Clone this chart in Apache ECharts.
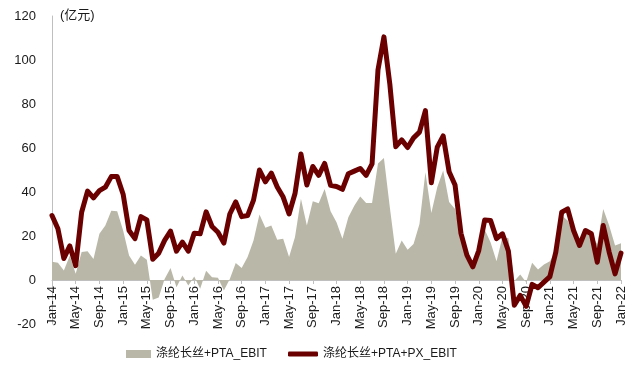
<!DOCTYPE html>
<html>
<head>
<meta charset="utf-8">
<script src="https://cdn.jsdelivr.net/npm/echarts@6/dist/echarts.min.js"></script>
<style>
html,body{margin:0;padding:0;background:#fff;}
#chart{width:640px;height:366px;}
</style>
</head>
<body>
<div id="chart"></div>
<script>
var monthNames = ["Jan","Feb","Mar","Apr","May","Jun","Jul","Aug","Sep","Oct","Nov","Dec"];
var years = ["14","15","16","17","18","19","20","21","22"];
var categories = [];
for (var y = 0; y < years.length; y++) {
  for (var m = 0; m < 12; m++) {
    if (y === years.length - 1 && m > 0) break;
    categories.push(monthNames[m] + "-" + years[y]);
  }
}

var seriesPTAName = "涤纶长丝+PTA_EBIT";
var seriesPXName = "涤纶长丝+PTA+PX_EBIT";

var ptaEbit = [
  8.3, 7.8, 4.3, 11, 2.8, 12.7, 13.1, 9.6, 21, 24.8, 31.5, 31.3,
  22.5, 11.1, 6.9, 11.1, 9.2, -9, -8, 0.5, 5.5, -3.3, 2, -2.5,
  1.6, -4, 4.2, 1.3, 1, -4.8, 0.5, 7.7, 5.5, 10.4, 18, 29.8,
  23.7, 24.8, 18.3, 18.7, 10.4, 19.5, 36.9, 24.8, 35.8, 34.9, 41.4, 31.3,
  26.3, 18.7, 28.5, 33.7, 38, 35, 35, 53, 55.4, 33, 11.9, 18,
  13.7, 16.4, 25.5, 49, 30.4, 42.2, 49.8, 35.4, 32.3, 19.5, 11, 6,
  13, 23, 17, 8.5, 19.5, 19, -0.5, 2.5, -1, 7.8, 4.8, 7,
  8.5, 13, 29.3, 27, 21, 17.2, 22.5, 20.2, 16.4, 32.3, 24.8, 15.7,
  16.7
];

var ptaPxEbit = [
  29.3, 23.3, 9.8, 15.5, 6.5, 30.8, 40.4, 37.3, 40.6, 42.2, 47, 47,
  39, 22.5, 18.8, 28.8, 27.3, 9.4, 12.2, 18, 22.2, 13.1, 17.2, 13.1,
  21.3, 21, 31, 24.3, 21.7, 16.8, 30, 35.5, 28.8, 29.3, 36.3, 50,
  44.6, 48.6, 42.3, 37.7, 30, 39.3, 57.3, 43.2, 51.6, 47.6, 53, 43,
  42.5, 41.2, 48.3, 49.5, 50.7, 47.6, 52.8, 95.5, 110.5, 89, 60.6, 63.7,
  60.2, 64.6, 67.2, 77, 44.2, 60.4, 65.5, 49.2, 43.2, 21.2, 11.3, 6,
  13.4, 27.3, 27, 18.8, 21, 13.2, -11.5, -7, -12, -2, -3.5, -1,
  1.5, 12.7, 30.8, 32.3, 22.5, 15.7, 22.5, 21, 8.1, 24.8, 12.7, 2.8,
  12.2
];

var yTicks = [-20, 0, 20, 40, 60, 80, 100, 120];

var gridTop = 16, gridBottom = 42, chartH = 366;
var plotH = chartH - gridTop - gridBottom;
var yMin = yTicks[0], yMax = yTicks[yTicks.length - 1];
// distance from the grid bottom (value yMin) up to the zero line
var zeroOffset = -plotH * (0 - yMin) / (yMax - yMin);

var chart = echarts.init(document.getElementById('chart'), null, {renderer: 'canvas'});
var baseFont = '"Liberation Sans", Arial, "Noto Sans CJK SC", sans-serif';
var mixFont = '"Liberation Sans", Arial, "Noto Sans CJK SC", sans-serif';
var option = {
  animation: false,
  backgroundColor: '#ffffff',
  textStyle: {fontFamily: baseFont},
  grid: {left: 52, right: 19, top: gridTop, bottom: gridBottom, containLabel: false, outerBoundsMode: 'none'},
  xAxis: {
    type: 'category',
    data: categories,
    boundaryGap: false,
    offset: zeroOffset,
    axisLine: {onZero: false, lineStyle: {color: '#bfbfbf', width: 1}},
    axisTick: {show: true, interval: 3, length: 4, lineStyle: {color: '#bfbfbf'}},
    axisLabel: {
      interval: 3, rotate: 90, fontSize: 13, color: '#1a1a1a', margin: 6,
      fontFamily: baseFont, hideOverlap: false
    },
    splitLine: {show: false}
  },
  yAxis: {
    type: 'value',
    min: yMin,
    max: yMax,
    interval: 20,
    axisLine: {show: true, lineStyle: {color: '#bfbfbf', width: 1}},
    axisTick: {show: false},
    axisLabel: {fontSize: 13, color: '#1a1a1a', margin: 16, fontFamily: baseFont},
    splitLine: {show: false}
  },
  legend: [
    {
      data: [{name: seriesPTAName, icon: 'rect'}],
      left: 126, top: 348, padding: 0,
      itemWidth: 25, itemHeight: 8, itemGap: 10,
      textStyle: {fontSize: 12, color: '#1a1a1a', fontFamily: mixFont}
    },
    {
      data: [{name: seriesPXName, icon: 'roundRect'}],
      left: 288, top: 348, padding: 0,
      itemWidth: 30, itemHeight: 5, itemGap: 10,
      textStyle: {fontSize: 12, color: '#1a1a1a', fontFamily: mixFont}
    }
  ],
  graphic: [
    {
      type: 'text', left: 60, top: 9,
      style: {text: '(亿元)', fontSize: 13, fill: '#1a1a1a', fontFamily: mixFont}
    }
  ],
  series: [
    {
      name: seriesPTAName,
      type: 'line',
      data: ptaEbit,
      showSymbol: false,
      symbol: 'none',
      lineStyle: {width: 0, color: '#b9b7a7'},
      itemStyle: {color: '#b9b7a7'},
      areaStyle: {color: '#b9b7a7', opacity: 1, origin: 'auto'},
      z: 1
    },
    {
      name: seriesPXName,
      type: 'line',
      data: ptaPxEbit,
      showSymbol: false,
      symbol: 'none',
      lineStyle: {width: 5, color: '#6b0000', join: 'round', cap: 'round'},
      itemStyle: {color: '#6b0000'},
      z: 2
    }
  ]
};
chart.setOption(option);
</script>
</body>
</html>
